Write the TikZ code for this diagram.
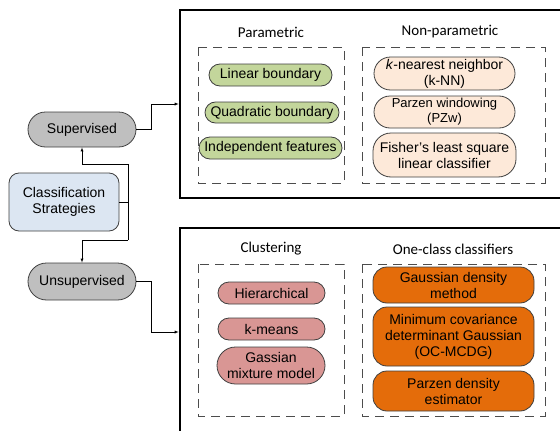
\documentclass[tikz,border=0pt]{standalone}
\usepackage{fontspec}
\setmainfont{Liberation Sans}
\newfontfamily\titlefont{Carlito}
\usetikzlibrary{shapes.misc}
\definecolor{supgray}{HTML}{BFBFBF}
\definecolor{stratblue}{HTML}{DCE6F2}
\definecolor{paramgreen}{HTML}{C3D69B}
\definecolor{nonpeach}{HTML}{FDE9D9}
\definecolor{clustpink}{HTML}{D99694}
\definecolor{oneorange}{HTML}{E46C0A}
\definecolor{edgegray}{HTML}{3F3F3F}
\begin{document}
\begin{tikzpicture}[x=1pt, y=-1pt, every node/.style={font=\fontsize{14}{16}\selectfont,
                  align=center, inner sep=1pt},
                  pill/.style={draw=edgegray, line width=.8pt, rounded rectangle},
                  rbox/.style={draw=edgegray, line width=.8pt, rectangle, rounded corners=14pt},
                  title/.style={font=\titlefont\fontsize{15}{17}\selectfont},
                  group/.style={draw=black!70, line width=1pt, dash pattern=on 9pt off 6pt},
                  frame/.style={draw=black, line width=2.6pt}]
              \clip (0,0) rectangle (560,431);
              % left column
              \node[pill, fill=supgray, minimum width=110pt, minimum height=35pt] (sup) at (82,129.5) {Supervised};
              \node[rbox, fill=stratblue, rounded corners=10pt, minimum width=110pt, minimum height=58pt] (cls) at (64,202) {Classification\\Strategies};
              \node[pill, fill=supgray, minimum width=110pt, minimum height=37pt] (unsup) at (82,281.5) {Unsupervised};
              % frames
              \draw[frame] (180,10) rectangle (580,198);
              \draw[frame] (180,228) rectangle (580,460);
              \draw[group] (198,47) rectangle (344,183);
              \draw[group] (362,47) rectangle (545,183);
              \draw[group] (198,264) rectangle (344,416);
              \draw[group] (362,264) rectangle (545,416);
              \node[title] (tpar) at (271,32) {Parametric};
              \node[title] (tnon) at (450,32) {Non-parametric};
              \node[title] (tclu) at (271,249) {Clustering};
              \node[title] (tone) at (453,249) {One-class classifiers};
              % parametric
              \node[pill, fill=paramgreen, minimum width=125pt, minimum height=22pt] (lin) at (270.5,75) {Linear boundary};
              \node[pill, fill=paramgreen, minimum width=136pt, minimum height=21pt] (quad) at (272,112.5) {Quadratic boundary};
              \node[pill, fill=paramgreen, minimum width=145pt, minimum height=22pt] (ind) at (270.5,148) {Independent features};
              % non-parametric
              \node[pill, fill=nonpeach, minimum width=143pt, minimum height=33pt] (knn) at (444.5,73.5) {\textit{k}-nearest neighbor\\(k-NN)};
              \node[pill, fill=nonpeach, minimum width=143pt, minimum height=32pt,
                    font=\fontsize{13}{15}\selectfont] (pzw) at (444.5,112) {Parzen windowing\\(PZw)};
              \node[rbox, fill=nonpeach, rounded corners=18pt, minimum width=143pt, minimum height=44pt] (fis) at (444.5,155) {Fisher's least square\\linear classifier};
              % clustering
              \node[pill, fill=clustpink, minimum width=109pt, minimum height=22pt] (hier) at (271.5,293) {Hierarchical};
              \node[pill, fill=clustpink, minimum width=109pt, minimum height=22pt] (kmeans) at (271.5,329) {k-means};
              \node[pill, fill=clustpink, minimum width=110pt, minimum height=37pt] (gmm) at (271,365.5) {Gassian\\mixture model};
              % one-class
              \node[rbox, fill=oneorange, minimum width=161pt, minimum height=36pt] (gdm) at (453.5,285) {Gaussian density\\method};
              \node[rbox, fill=oneorange, minimum width=161pt, minimum height=59pt] (mcdg) at (453.5,336.5) {Minimum covariance\\determinant Gaussian\\(OC-MCDG)};
              \node[rbox, fill=oneorange, minimum width=161pt, minimum height=40pt] (pde) at (453.5,391) {Parzen density\\estimator};
              % connectors
              \coordinate (jt) at (128,164);
              \coordinate (jb) at (128,240);
              \coordinate (tin) at (178.7,104);
              \coordinate (bin) at (178.7,332);
              \draw (cls.east) -- (cls.east -| jt);
              \draw (jt) -- (jb);
              \draw[-latex] (jt) -| (sup.south);
              \draw[-latex] (jb) -| (unsup.north);
              \draw[-latex] (sup.east) -- ++(15,0) |- (tin);
              \draw[-latex] (unsup.east) -- ++(15,0) |- (bin);
          \end{tikzpicture}
\end{document}
